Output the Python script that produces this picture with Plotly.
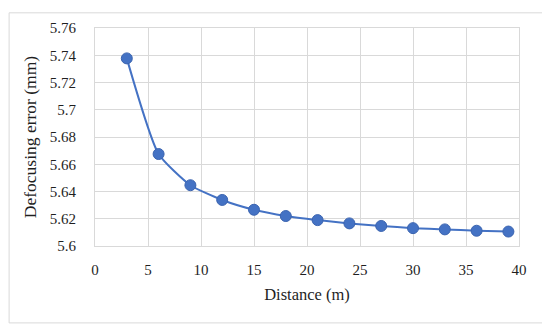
import plotly.graph_objects as go

distance = [3, 6, 9, 12, 15, 18, 21, 24, 27, 30, 33, 36, 39]
defocus_error = [5.7377, 5.6675, 5.6446, 5.6338, 5.6266, 5.6220, 5.6190, 5.6166, 5.6147, 5.6131, 5.6122, 5.6112, 5.6106]

y_ticks = [5.6, 5.62, 5.64, 5.66, 5.68, 5.7, 5.72, 5.74, 5.76]
y_tick_labels = ["5.6", "5.62", "5.64", "5.66", "5.68", "5.7", "5.72", "5.74", "5.76"]
x_ticks = [0, 5, 10, 15, 20, 25, 30, 35, 40]

FONT = "Liberation Serif"
GRID = "#d9d9d9"

# plot area in figure pixels
L, R, T, B = 86.5, 39, 16, 94.5
W, H = 550, 333
pw, ph = W - L - R, H - T - B

fig = go.Figure()
fig.add_trace(go.Scatter(
    x=distance, y=defocus_error, mode="lines+markers",
    line=dict(color="#4472C4", width=2, shape="spline", smoothing=0.55),
    marker=dict(color="#4472C4", size=11, line=dict(color="#3b64b0", width=1)),
    showlegend=False,
))

fig.update_layout(
    width=W, height=H,
    margin=dict(l=L, r=R, t=T, b=B),
    paper_bgcolor="white", plot_bgcolor="white",
    font=dict(family=FONT, size=15, color="#1f1f1f"),
    xaxis=dict(
        range=[0, 40], tickvals=x_ticks, showgrid=True, gridcolor=GRID, gridwidth=1,
        zeroline=False, showline=True, linecolor=GRID, mirror=True,
        ticks="", ticklabelstandoff=10,
        title=dict(text="Distance (m)", font=dict(family=FONT, size=16.5), standoff=11),
    ),
    yaxis=dict(
        range=[5.6, 5.76], tickvals=y_ticks, ticktext=y_tick_labels,
        showgrid=True, gridcolor=GRID, gridwidth=1,
        zeroline=False, showline=True, linecolor=GRID, mirror=True,
        ticks="", ticklabelstandoff=15,
        title=dict(text="Defocusing error (mm)", font=dict(family=FONT, size=17.5), standoff=8),
    ),
    shapes=[dict(
        type="rect", xref="paper", yref="paper",
        x0=(0.5 - L) / pw, x1=(537 - L) / pw,
        y0=(H - B - 317) / ph, y1=(H - B - 0.5) / ph,
        line=dict(color="#d9d9d9", width=1), fillcolor="rgba(0,0,0,0)", layer="below",
    )],
)

fig.write_html("out.html")
